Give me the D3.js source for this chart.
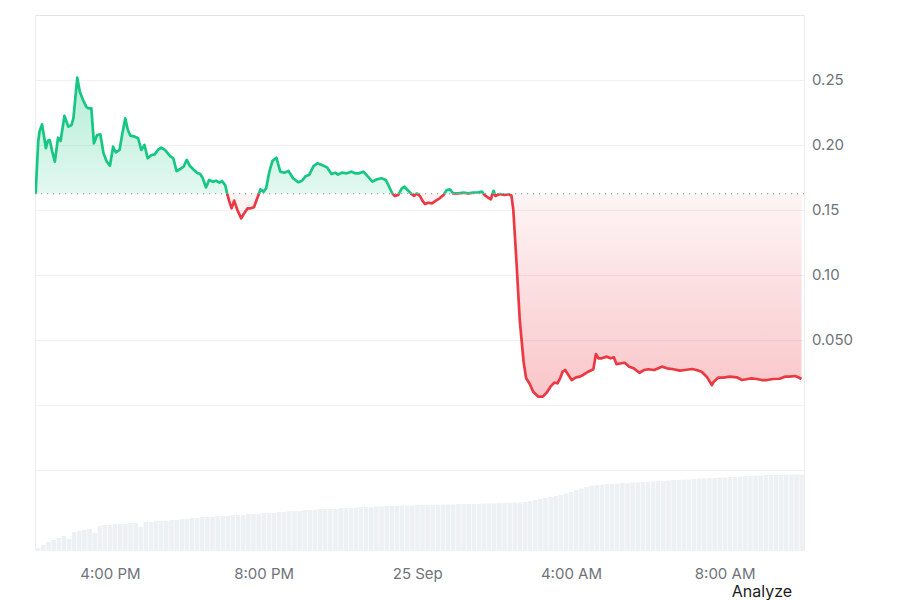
<!DOCTYPE html>
<html>
<head>
<meta charset="utf-8">
<script src="https://cdn.jsdelivr.net/npm/d3@7/dist/d3.min.js"></script>
<style>
  html, body { margin: 0; padding: 0; background: #ffffff; }
  svg { display: block; font-family: Inter, "Noto Sans", sans-serif; }
</style>
</head>
<body>
<svg id="chart" width="900" height="600"></svg>
<script>
// ---- data ----
const startTime = "2024-09-24T14:03:00";
const totalMinutes = 1200;
const openPrice = 0.1625;

// minutes since start
const priceMinutes = [1,5,7,11,15,17,20,23,27,31,36,40,46,52,57,60,66,70,75,80,83,88,92,97,102,107,112,117,122,126,132,136,141,145,149,156,161,166,171,176,182,187,192,197,
203,211,216,221,226,232,237,242,247,253,258,262,267,272,278,283,288,292,297,300,303,307,311,316,322,326,332,337,342,346,350,352,357,361,366,371,377,383,389,396,
403,411,417,423,428,435,441,448,456,463,469,473,479,487,494,500,506,513,520,527,534,541,548,553,558,562,567,573,577,583,588,592,596,601,605,609,614,620,626,632,638,643,648,653,661,669,677,684,692,698,702,707,712,716,719,726,733,739,744,
747,752,757,763,767,772,778,786,793,799,805,811,816,820,824,828,833,838,845,851,856,864,872,876,880,885,893,899,904,908,916,921,928,935,944,951,958,967,979,987,997,1007,1015,1026,1033,1041,1049,1057,1060,1067,1075,1085,1096,1104,1111,1119,1127,1135,1143,1153,1163,1171,1179,1187,1192,1197];

const prices = [0.1625,0.2025,0.2102,0.2159,0.2038,0.1975,0.2031,0.2038,0.1948,0.1872,0.2056,0.2031,0.2225,0.2141,0.2154,0.2205,0.2518,0.2410,0.2346,0.2295,0.2282,0.2282,0.2013,0.2077,0.2082,0.1936,0.1872,0.1841,0.1987,0.1944,0.1962,0.2077,0.2205,0.2115,0.2072,0.2064,0.2052,0.1962,0.2000,0.1898,0.1923,0.1928,0.1962,0.1979,
0.1962,0.1915,0.1898,0.1800,0.1813,0.1833,0.1885,0.1838,0.1813,0.1787,0.1777,0.1744,0.1674,0.1731,0.1718,0.1725,0.1710,0.1723,0.1692,0.1628,0.1572,0.1513,0.1572,0.1500,0.1436,0.1469,0.1513,0.1513,0.1521,0.1577,0.1628,0.1659,0.1641,0.1667,0.1795,0.1879,0.1902,0.1795,0.1787,0.1800,
0.1744,0.1713,0.1725,0.1762,0.1769,0.1838,0.1859,0.1846,0.1828,0.1777,0.1787,0.1772,0.1787,0.1782,0.1795,0.1782,0.1782,0.1795,0.1756,0.1718,0.1736,0.1744,0.1731,0.1679,0.1628,0.1608,0.1615,0.1667,0.1679,0.1648,0.1623,0.1608,0.1628,0.1608,0.1572,0.1546,0.1556,0.1551,0.1572,0.1590,0.1615,0.1654,0.1659,0.1628,0.1628,0.1633,0.1628,0.1633,0.1636,0.1641,0.1615,0.1598,0.1582,0.1648,0.1608,0.1623,0.1615,0.1621,0.1612,
0.1500,0.1092,0.0654,0.0333,0.0205,0.0167,0.0102,0.0064,0.0064,0.0095,0.0141,0.0172,0.0167,0.0205,0.0256,0.0269,0.0231,0.0192,0.0213,0.0218,0.0231,0.0256,0.0275,0.0392,0.0359,0.0359,0.0372,0.0359,0.0367,0.0315,0.0321,0.0325,0.0295,0.0282,0.0248,0.0269,0.0275,0.0269,0.0295,0.0282,0.0275,0.0264,0.0269,0.0277,0.0269,0.0256,0.0218,0.0154,0.0179,0.0210,0.0210,0.0218,0.0213,0.0192,0.0198,0.0205,0.0200,0.0192,0.0192,0.0200,0.0202,0.0218,0.0218,0.0223,0.0213,0.0200];

// volume bars, one every 8 minutes (relative units)
const volumes = [3,6,9,11,13,15,12,19,20,21,22,18,25,26,26,27,27,27,28,28,24,29,29,30,30,30,31,31,32,32,33,33,34,34,34,35,35,35,36,36,36,37,37,37,38,38,38,39,39,40,
40,40,41,41,41,42,42,42,42,43,43,43,43.5,44,44,44,44.5,44.5,45,45,45,45.5,45.5,45.5,46,46,46,46,46,46.5,46.5,46.5,47,47,47,47,47,47.5,47.5,47.5,48,48,48,48.5,48.5,49,50,51,52,53,
54,55,56,57.5,59,61,62.5,64,65.5,66,66.5,67,67,67.5,68,68,68.5,68.5,69,69,69.5,70,70,70.5,71,71,71.5,71.5,72,72.5,72.5,73,73,73.5,73.5,74,74,74.5,75,75,75.5,75.5,76,76,76,76,76.5,76.5,76.5,76.5];

const gridValues = [0.30,0.25,0.20,0.15,0.10,0.05,0,-0.05];
const yTickValues = [0.25,0.20,0.15,0.10,0.05];
const yTickLabels = ["0.25","0.20","0.15","0.10","0.050"];
const xTickTimes = ["2024-09-24T16:00:00","2024-09-24T20:00:00","2024-09-25T00:00:00","2024-09-25T04:00:00","2024-09-25T08:00:00"];
const xTickLabels = ["4:00 PM","8:00 PM","25 Sep","4:00 AM","8:00 AM"];

// ---- layout ----
const plotLeft = 35, plotRight = 804, plotTop = 15;
const svg = d3.select("#chart");
const t0 = new Date(startTime);
const tEnd = new Date(t0.getTime() + totalMinutes * 60000);
const x = d3.scaleTime().domain([t0, tEnd]).range([plotLeft, 803.4]);
const y = d3.scaleLinear().domain([0, 0.30]).range([405, plotTop]);
const volTop = 470, volBottom = 551;
const yv = d3.scaleLinear().domain([0, 81]).range([volBottom, volTop]);

const data = priceMinutes.map((m, i) => ({ t: new Date(t0.getTime() + m * 60000), p: prices[i] }));
const baseY = y(openPrice);

// defs
const defs = svg.append("defs");
const gGreen = defs.append("linearGradient").attr("id", "gGreen")
  .attr("gradientUnits", "userSpaceOnUse").attr("x1", 0).attr("x2", 0).attr("y1", y(0.26)).attr("y2", baseY);
gGreen.append("stop").attr("offset", 0).attr("stop-color", "#16c784").attr("stop-opacity", 0.34);
gGreen.append("stop").attr("offset", 1).attr("stop-color", "#16c784").attr("stop-opacity", 0.12);
const gRed = defs.append("linearGradient").attr("id", "gRed")
  .attr("gradientUnits", "userSpaceOnUse").attr("x1", 0).attr("x2", 0).attr("y1", baseY).attr("y2", y(0));
gRed.append("stop").attr("offset", 0).attr("stop-color", "#ea3943").attr("stop-opacity", 0.05);
gRed.append("stop").attr("offset", 1).attr("stop-color", "#ea3943").attr("stop-opacity", 0.3);
defs.append("clipPath").attr("id", "clipAbove").append("rect")
  .attr("x", plotLeft).attr("y", 0).attr("width", plotRight - plotLeft).attr("height", baseY);
defs.append("clipPath").attr("id", "clipBelow").append("rect")
  .attr("x", plotLeft).attr("y", baseY).attr("width", plotRight - plotLeft).attr("height", 600 - baseY);

// grid
svg.append("g").selectAll("line").data(gridValues).join("line")
  .attr("x1", plotLeft).attr("x2", plotRight)
  .attr("y1", d => Math.round(y(d)) + 0.5).attr("y2", d => Math.round(y(d)) + 0.5)
  .attr("stroke", (d, i) => i === 0 ? "#e2e4e7" : "#eff1f3").attr("stroke-width", 1);
svg.append("line").attr("x1", plotLeft + 0.5).attr("x2", plotLeft + 0.5).attr("y1", plotTop).attr("y2", volBottom)
  .attr("stroke", "#eceef1");
svg.append("line").attr("x1", plotRight + 0.5).attr("x2", plotRight + 0.5).attr("y1", plotTop).attr("y2", volBottom)
  .attr("stroke", "#eceef1");

// volume bars
const xb = d3.scaleBand().domain(d3.range(volumes.length)).range([plotLeft + 1, plotRight]).paddingInner(0.1);
svg.append("g").selectAll("rect").data(volumes).join("rect")
  .attr("x", (d, i) => xb(i)).attr("width", xb.bandwidth())
  .attr("y", d => yv(d)).attr("height", d => volBottom - yv(d))
  .attr("fill", "#eef1f4");

// areas
const area = d3.area().x(d => x(d.t)).y0(baseY).y1(d => y(d.p));
const line = d3.line().x(d => x(d.t)).y(d => y(d.p));
svg.append("path").datum(data).attr("d", area).attr("fill", "url(#gGreen)").attr("clip-path", "url(#clipAbove)");
svg.append("path").datum(data).attr("d", area).attr("fill", "url(#gRed)").attr("clip-path", "url(#clipBelow)");

// baseline dotted
svg.append("line").attr("x1", plotLeft).attr("x2", plotRight).attr("y1", baseY).attr("y2", baseY)
  .attr("stroke", "#8a8f96").attr("stroke-width", 1.2).attr("stroke-dasharray", "1.2,4.8");

// lines
svg.append("path").datum(data).attr("d", line).attr("fill", "none").attr("stroke", "#16c784")
  .attr("stroke-width", 2.7).attr("stroke-linejoin", "round").attr("clip-path", "url(#clipAbove)");
svg.append("path").datum(data).attr("d", line).attr("fill", "none").attr("stroke", "#ea3943")
  .attr("stroke-width", 2.7).attr("stroke-linejoin", "round").attr("clip-path", "url(#clipBelow)");

// y axis (right)
const yAxis = d3.axisRight(y).tickValues(yTickValues).tickSize(0).tickPadding(0)
  .tickFormat((d, i) => yTickLabels[i]);
const gy = svg.append("g").attr("transform", `translate(812,0)`).call(yAxis);
gy.select(".domain").remove();
gy.selectAll("text").attr("font-family", "Inter, sans-serif").attr("font-size", 15).attr("fill", "#6f737a");

// x axis
const xAxis = d3.axisBottom(x).tickValues(xTickTimes.map(s => new Date(s))).tickSize(0).tickPadding(0)
  .tickFormat((d, i) => xTickLabels[i]);
const gx = svg.append("g").attr("transform", `translate(0,568)`).call(xAxis);
gx.select(".domain").remove();
gx.selectAll("text").attr("font-family", "Inter, sans-serif").attr("font-size", 15).attr("fill", "#6f737a");

// Analyze label
svg.append("text").attr("x", 762).attr("y", 597).attr("text-anchor", "middle")
  .attr("font-family", "Inter, sans-serif").attr("font-size", 16).attr("fill", "#1b1b1b").text("Analyze");
</script>
</body>
</html>
